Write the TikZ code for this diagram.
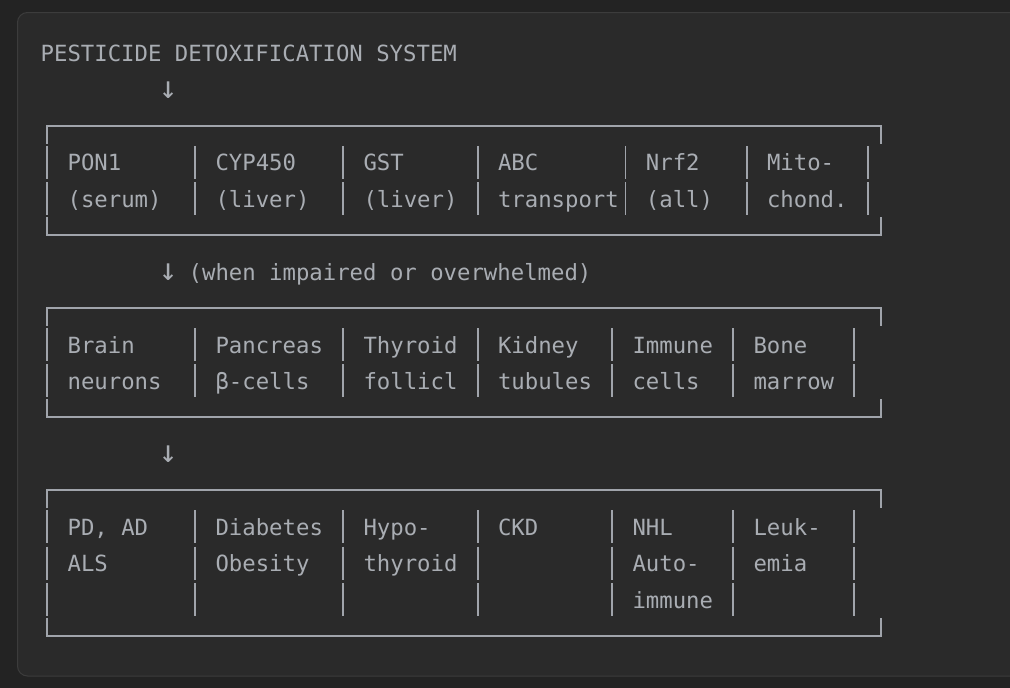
\documentclass[tikz,border=0pt]{standalone}
\usepackage{fontspec}
\setmonofont{DejaVu Sans Mono}
\definecolor{outerbg}{HTML}{232323}
\definecolor{panelbg}{HTML}{2A2A2A}
\definecolor{panelrule}{HTML}{3C3C3C}
\definecolor{ink}{HTML}{A9ADB3}
\definecolor{rule}{HTML}{A0A4AB}
\newcommand\cw{13.45}
\newcommand\lh{36.44}
\newcommand\celltext[3]{\node[txt] (t#1-#2) at ({40.5+#1*\cw},{53+#2*\lh+8.5}) {#3};}
\newcommand\cellarrow[2]{\node[arr] (a#1-#2) at ({40.5+(#1+0.5)*\cw},{53+#2*\lh+9}) {↓};}
\newcommand\boxtop[1]{%
  \draw[boxline] ({47.2},{53+#1*\lh+18}) -- ({47.2},{53+#1*\lh}) -- ({47.2+62*\cw},{53+#1*\lh}) -- ({47.2+62*\cw},{53+#1*\lh+18});}
\newcommand\boxbot[1]{%
  \draw[boxline] ({47.2},{53+#1*\lh-18}) -- ({47.2},{53+#1*\lh}) -- ({47.2+62*\cw},{53+#1*\lh}) -- ({47.2+62*\cw},{53+#1*\lh-18});}
\newcommand\bars[2]{%
  \foreach \c in {#2} {\draw[barline] ({47.2+\c*\cw},{53+#1*\lh-16.5}) -- ({47.2+\c*\cw},{53+#1*\lh+16.5});}}
\begin{document}
\begin{tikzpicture}[x=1pt,y=-1pt,
  txt/.style={anchor=base west,inner sep=0pt,text=ink,font=\ttfamily\fontsize{22.3}{26}\selectfont},
  arr/.style={anchor=base,inner sep=0pt,text=ink,font=\ttfamily\fontsize{31}{34}\selectfont},
  boxline/.style={draw=rule,line width=2pt},
  barline/.style={draw=rule,line width=1.8pt}]
\fill[outerbg] (0,0) rectangle (1010,688);
\useasboundingbox (0,0) rectangle (1010,688);
\draw[panelrule,fill=panelbg,line width=1pt,rounded corners=10pt] (17.5,12.5) rectangle (1040,676);
% title and arrows
\celltext{0}{0}{PESTICIDE DETOXIFICATION SYSTEM}
\cellarrow{9}{1}
% box 1
\boxtop{2}
\bars{3}{0,11,22,32,43,52,61}
\bars{4}{0,11,22,32,43,52,61}
\boxbot{5}
\celltext{2}{3}{PON1}
\celltext{13}{3}{CYP450}
\celltext{24}{3}{GST}
\celltext{34}{3}{ABC}
\celltext{45}{3}{Nrf2}
\celltext{54}{3}{Mito-}
\celltext{2}{4}{(serum)}
\celltext{13}{4}{(liver)}
\celltext{24}{4}{(liver)}
\celltext{34}{4}{transport}
\celltext{45}{4}{(all)}
\celltext{54}{4}{chond.}
% arrow 2
\cellarrow{9}{6}
\celltext{11}{6}{(when impaired or overwhelmed)}
% box 2
\boxtop{7}
\bars{8}{0,11,22,32,42,51,60}
\bars{9}{0,11,22,32,42,51,60}
\boxbot{10}
\celltext{2}{8}{Brain}
\celltext{13}{8}{Pancreas}
\celltext{24}{8}{Thyroid}
\celltext{34}{8}{Kidney}
\celltext{44}{8}{Immune}
\celltext{53}{8}{Bone}
\celltext{2}{9}{neurons}
\celltext{13}{9}{β-cells}
\celltext{24}{9}{follicl}
\celltext{34}{9}{tubules}
\celltext{44}{9}{cells}
\celltext{53}{9}{marrow}
% arrow 3
\cellarrow{9}{11}
% box 3
\boxtop{12}
\bars{13}{0,11,22,32,42,51,60}
\bars{14}{0,11,22,32,42,51,60}
\bars{15}{0,11,22,32,42,51,60}
\boxbot{16}
\celltext{2}{13}{PD, AD}
\celltext{13}{13}{Diabetes}
\celltext{24}{13}{Hypo-}
\celltext{34}{13}{CKD}
\celltext{44}{13}{NHL}
\celltext{53}{13}{Leuk-}
\celltext{2}{14}{ALS}
\celltext{13}{14}{Obesity}
\celltext{24}{14}{thyroid}
\celltext{44}{14}{Auto-}
\celltext{53}{14}{emia}
\celltext{44}{15}{immune}
\end{tikzpicture}
\end{document}
